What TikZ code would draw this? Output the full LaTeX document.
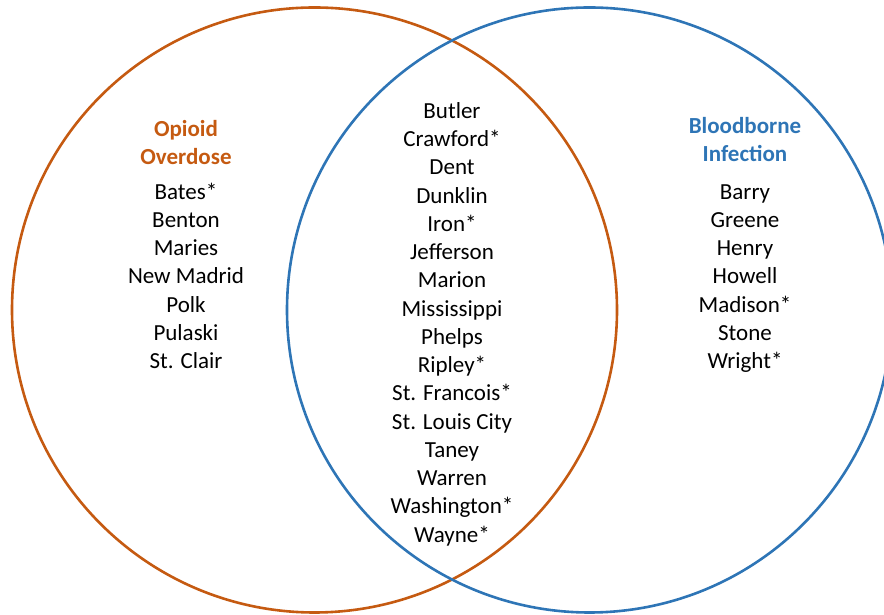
\documentclass[tikz,border=0pt]{standalone}
\usepackage{fontspec}
\setmainfont{Carlito}
\definecolor{opioid}{HTML}{C55A11}
\definecolor{blood}{HTML}{2E75B6}
\tikzset{
  ring/.style={line width=2.6pt},
  item/.style={anchor=base, inner sep=0pt, font=\fontsize{23}{28}\selectfont},
  head/.style={item, font=\fontsize{23}{28}\selectfont\bfseries},
}
\begin{document}
\begin{tikzpicture}[x=1pt,y=1pt]
\useasboundingbox (0,0) rectangle (884,615);
\draw[ring, opioid] (314.5,305) circle (302.5);
\draw[ring, blood] (589.5,305) circle (302.5);
% left
\node[head, text=opioid] (t1a) at (186,{615-136.5}) {Opioid};
\node[head, text=opioid] (t1b) at (186,{615-164.5}) {Overdose};
\foreach \t [count=\i from 0] in {Bates*,Benton,Maries,New Madrid,Polk,Pulaski,St. Clair}
  \node[item] (L\i) at (186,{615-199.3-28.2*\i}) {\t};
% middle
\foreach \t [count=\i from 0] in {Butler,Crawford*,Dent,Dunklin,Iron*,Jefferson,Marion,Mississippi,Phelps,Ripley*,St. Francois*,St. Louis City,Taney,Warren,Washington*,Wayne*}
  \node[item] (M\i) at (452,{615-118.5-28.25*\i}) {\t};
% right
\node[head, text=blood] (t2a) at (745,{615-133.5}) {Bloodborne};
\node[head, text=blood] (t2b) at (745,{615-161.5}) {Infection};
\foreach \t [count=\i from 0] in {Barry,Greene,Henry,Howell,Madison*,Stone,Wright*}
  \node[item] (R\i) at (745,{615-199.3-28.2*\i}) {\t};
\end{tikzpicture}
\end{document}
